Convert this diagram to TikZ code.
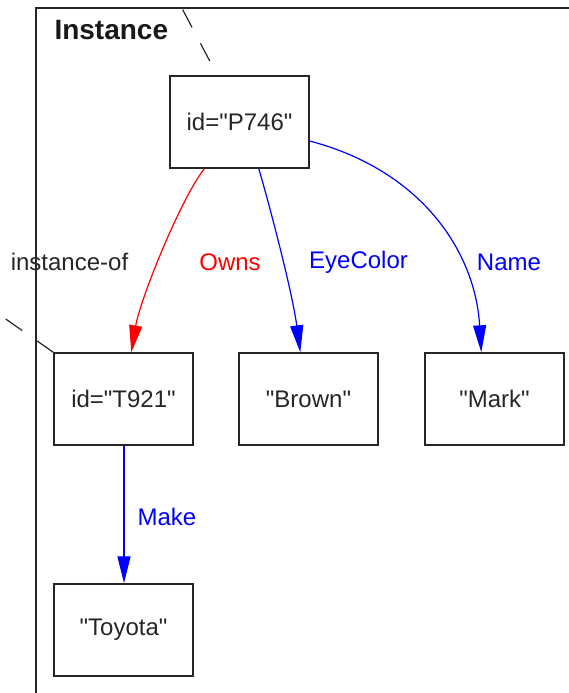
\documentclass[tikz,border=0pt]{standalone}
\usepackage{fontspec}
\setmainfont{Liberation Sans}[Ligatures=TeXOff]
\usetikzlibrary{arrows.meta}
\begin{document}
\begin{tikzpicture}[x=1pt,y=-1pt,
  box/.style={draw=black!85, line width=1.4pt, minimum width=139pt, minimum height=92pt,
    inner sep=0pt, font=\fontsize{24}{28}\selectfont, text=black!85},
  lbl/.style={font=\fontsize{24}{28}\selectfont},
  rel/.style={line width=1.2pt, -{Triangle[length=27pt,width=13pt]}},
  link/.style={line width=1.2pt, draw=black!85, dash pattern=on 20pt off 18pt},
]
\useasboundingbox (0,0) rectangle (569,693);
\clip (0,0) rectangle (569,693);

% package frame
\draw[line width=1.6pt, black!85] (575,8) -- (36,8) -- (36,700);
\node[anchor=base west, font=\bfseries\fontsize{28}{32}\selectfont, text=black!90] (title) at (51,40) {Instance};

% objects
\node[box] (p) at (239.5,122) {id="P746"};
\node[box] (t) at (123.5,399) {id="T921"};
\node[box] (b) at (308.5,399) {"Brown"};
\node[box] (m) at (494.5,399) {"Mark"};
\node[box] (y) at (123.5,630) {"Toyota"};

% instance-of link, routed outside the frame
\draw[link] (t.north west) -- (-60,273) -- (-60,-58) -- (156.5,-58) -- (156.5,-40)
  -- ([xshift=48pt]p.north west);
\node[lbl, text=black!85] (io) at (69.5,262) {instance-of};

% attribute and relation edges
\draw[rel, red] ([xshift=35pt]p.south west) .. controls (180,200) and (140,300) .. ([xshift=78pt]t.north west);
\draw[rel, blue] ([xshift=89.5pt]p.south west) .. controls (268,200) and (292,290) .. ([xshift=62pt]b.north west);
\draw[rel, blue] ([yshift=-19pt]p.east) .. controls (420,170) and (475,250) .. ([xshift=57pt]m.north west);
\draw[rel, blue] ([xshift=0.5pt]t.south) -- ([xshift=0.5pt]y.north);

\node[lbl, red] (owns) at (230,262) {Owns};
\node[lbl, blue] (eye) at (358.5,262) {EyeColor};
\node[lbl, blue] (name) at (509,262) {Name};
\node[lbl, blue] (make) at (167,516.5) {Make};
\end{tikzpicture}
\end{document}
